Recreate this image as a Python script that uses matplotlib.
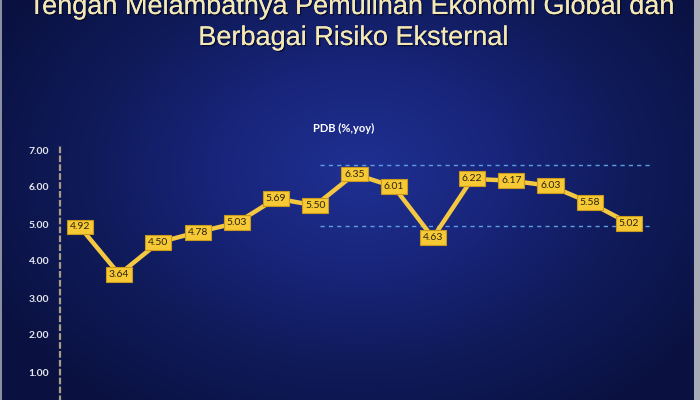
import numpy as np
import matplotlib
matplotlib.use("Agg")
import matplotlib.pyplot as plt
import matplotlib.patheffects as pe
from matplotlib.colors import LinearSegmentedColormap

# ---- data ----
values = [4.92, 3.64, 4.50, 4.78, 5.03, 5.69, 5.50, 6.35, 6.01, 4.63, 6.22, 6.17, 6.03, 5.58, 5.02]
yticks = [1.0, 2.0, 3.0, 4.0, 5.0, 6.0, 7.0]
band_levels = [6.6, 4.95]
title_line1 = "Tengah Melambatnya Pemulihan Ekonomi Global dan"
title_line2 = "Berbagai Risiko Eksternal"
series_title = "PDB (%,yoy)"

W, H = 700, 400
fig = plt.figure(figsize=(7, 4), dpi=100)

# ---- background gradient ----
bg = fig.add_axes([0, 0, 1, 1])
bg.set_axis_off()
yy, xx = np.mgrid[0:H, 0:W]
cx, cy = 360, 170
r = np.sqrt(((xx - cx) / 420.0) ** 2 + ((yy - cy) / 300.0) ** 2)
r = np.clip(r, 0, 1)
cmap = LinearSegmentedColormap.from_list("bg", ["#1f3092", "#18257a", "#0f1a58", "#0a1140"])
img = cmap(r)
img[:, 694:, :3] = np.array([0xa8, 0xac, 0xb6]) / 255.0
img[:, :2, :3] = np.array([0x8a, 0x90, 0xa0]) / 255.0
bg.imshow(img, extent=[0, W, H, 0], aspect="auto")
bg.set_xlim(0, W)
bg.set_ylim(H, 0)

# ---- titles ----
tcol = "#f4e8b4"
shadow = [pe.withSimplePatchShadow(offset=(1, -1), shadow_rgbFace="#050a25", alpha=0.8), pe.Normal()]
bg.text(352, 14, title_line1, ha="center", va="baseline", fontsize=19.5,
        family="Liberation Sans", color=tcol, path_effects=shadow)
bg.text(354, 45, title_line2, ha="center", va="baseline", fontsize=19.5,
        family="Liberation Sans", color=tcol, path_effects=shadow)
bg.text(344, 128, series_title, ha="center", va="center", fontsize=8,
        family="Lato", fontweight="bold", color="#ffffff")

# ---- main chart axes ----
ppu = 37.0          # px per unit y
step = 39.21        # px per category
x0_px, y0_px = 80.0, 409.0
xlim = (-0.5, 15.0)
ylim = (0.0, 7.1)
left = (x0_px + xlim[0] * step) / W
width = (xlim[1] - xlim[0]) * step / W
bottom = (H - y0_px) / H
height = (ylim[1] - ylim[0]) * ppu / H
ax = fig.add_axes([left, bottom, width, height])
ax.set_facecolor("none")
ax.set_xlim(*xlim)
ax.set_ylim(*ylim)
for s in ["top", "right", "bottom"]:
    ax.spines[s].set_visible(False)
ax.spines["left"].set_color("#a89f82")
ax.spines["left"].set_linewidth(1.6)
ax.spines["left"].set_linestyle((0, (2, 2)))
ax.set_xticks([])
ax.set_yticks(yticks)
ax.set_yticklabels([f"{v:.2f}" for v in yticks])
ax.tick_params(axis="y", length=0, pad=8, labelsize=7.5, labelcolor="#e6e8f0")
for lab in ax.get_yticklabels():
    lab.set_fontweight("bold")
    lab.set_family("Lato")

ax.hlines(band_levels, 6.12, 14.61, colors="#5f9ee0", linestyles=(0, (3, 3)), linewidth=1.0)

xs = np.arange(len(values))
ax.plot(xs, values, color="#f5c842", linewidth=3.2, solid_joinstyle="miter", zorder=3)
for x, v in zip(xs, values):
    ax.text(x, v, f"{v:.2f}", ha="center", va="center", fontsize=7.5, family="Lato",
            color="#2a2410", zorder=4,
            bbox=dict(boxstyle="square,pad=0.28", facecolor="#f7c935", edgecolor="#c99a1c", linewidth=0.8))

fig.savefig("out.png", dpi=100)
